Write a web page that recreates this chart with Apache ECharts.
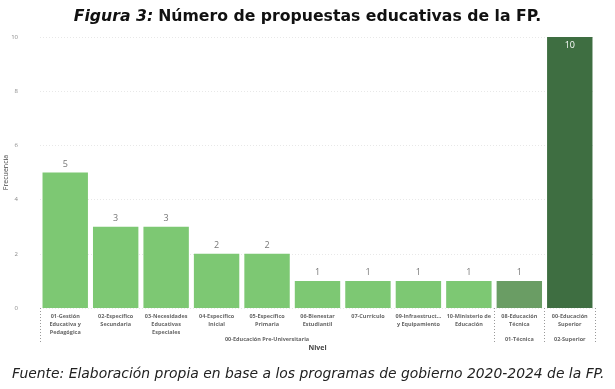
<!DOCTYPE html>
<html>
<head>
<meta charset="utf-8">
<script src="https://cdn.jsdelivr.net/npm/echarts@6/dist/echarts.min.js"></script>
<style>
html,body{margin:0;padding:0;background:#fff;}
#chart{width:615px;height:389px;}
</style>
</head>
<body>
<div id="chart"></div>
<script>
var categories = [
  "01-Gestión\nEducativa y\nPedagógica",
  "02-Específico\nSecundaria",
  "03-Necesidades\nEducativas\nEspeciales",
  "04-Específico\nInicial",
  "05-Específico\nPrimaria",
  "06-Bienestar\nEstudiantil",
  "07-Currículo",
  "09-Infraestruct...\ny Equipamiento",
  "10-Ministerio de\nEducación",
  "08-Educación\nTécnica",
  "00-Educación\nSuperior"
];
var values = [5, 3, 3, 2, 2, 1, 1, 1, 1, 1, 10];
var groupIndex = [0, 0, 0, 0, 0, 0, 0, 0, 0, 1, 2];
var groupNames = ["00-Educación Pre-Universitaria", "01-Técnica", "02-Superior"];
var groupCenters = [4.5, 9.5, 10.5];
var groupBounds = [0, 9, 10, 11];
var yTicks = [0, 2, 4, 6, 8, 10];
var groupColors = ["#7dc873", "#6a9d64", "#3e6e41"];

var chart = echarts.init(document.getElementById('chart'), null, {renderer: 'canvas'});
var option = {
  backgroundColor: '#fff',
  animation: false,
  title: [{
    text: '{i|Figura 3:} {b|Número de propuestas educativas de la FP.}',
    left: 'center', top: 8, padding: 0,
    textStyle: {
      rich: {
        i: {fontFamily: 'DejaVu Sans', fontSize: 15.7, fontWeight: 'bold', fontStyle: 'italic', color: '#111'},
        b: {fontFamily: 'DejaVu Sans', fontSize: 15.7, fontWeight: 'bold', color: '#111'}
      }
    }
  }, {
    text: 'Fuente: Elaboración propia en base a los programas de gobierno 2020-2024 de la FP.',
    left: 12, top: 367, padding: 0,
    textStyle: {fontFamily: 'DejaVu Sans', fontSize: 13.9, fontStyle: 'italic', fontWeight: 'normal', color: '#222'}
  }],
  grid: {left: 40, right: 20, top: 37, bottom: 81, outerBoundsMode: 'none', containLabel: false},
  xAxis: [{
    type: 'category',
    data: categories,
    axisLine: {show: false},
    axisTick: {show: false},
    axisLabel: {
      interval: 0, fontSize: 5.5, color: '#666', fontWeight: 'bold',
      fontFamily: 'Open Sans', lineHeight: 8, margin: 4
    },
    name: 'Nivel', nameLocation: 'middle', nameGap: 36,
    nameTextStyle: {fontSize: 7, color: '#444', fontFamily: 'Open Sans', fontWeight: 'bold'}
  }, {
    type: 'value',
    position: 'bottom',
    min: 0, max: 11, interval: 0.5,
    axisLine: {show: false},
    splitLine: {show: false},
    axisTick: {
      show: true, inside: false, length: 36,
      customValues: groupBounds,
      lineStyle: {type: [1, 2], color: '#999', width: 1}
    },
    axisLabel: {
      customValues: groupCenters,
      formatter: function (v) {
        var i = groupCenters.indexOf(v);
        return i >= 0 ? groupNames[i] : '';
      },
      fontSize: 5.5, color: '#666', fontWeight: 'bold', fontFamily: 'Open Sans', margin: 28
    }
  }],
  yAxis: {
    type: 'value', min: yTicks[0], max: yTicks[yTicks.length - 1], interval: 2,
    axisLine: {show: false}, axisTick: {show: false},
    axisLabel: {fontSize: 6, color: '#888', fontFamily: 'Open Sans', margin: 22},
    splitLine: {lineStyle: {type: [1, 2], color: '#e8e8e8'}},
    name: 'Frecuencia', nameLocation: 'middle', nameGap: 31, nameMoveOverlap: false,
    nameTextStyle: {fontSize: 7, color: '#444', fontFamily: 'Open Sans'}
  },
  series: [{
    type: 'bar',
    xAxisIndex: 0,
    barCategoryGap: '10%',
    data: values.map(function (v, i) {
      var isMax = v === 10;
      return {
        value: v,
        itemStyle: {color: groupColors[groupIndex[i]]},
        label: isMax ? {position: 'insideTop', color: '#fff', distance: 4} : {}
      };
    }),
    label: {show: true, position: 'top', fontSize: 9, color: '#777', fontFamily: 'Open Sans', distance: 4}
  }]
};
chart.setOption(option);
</script>
</body>
</html>
